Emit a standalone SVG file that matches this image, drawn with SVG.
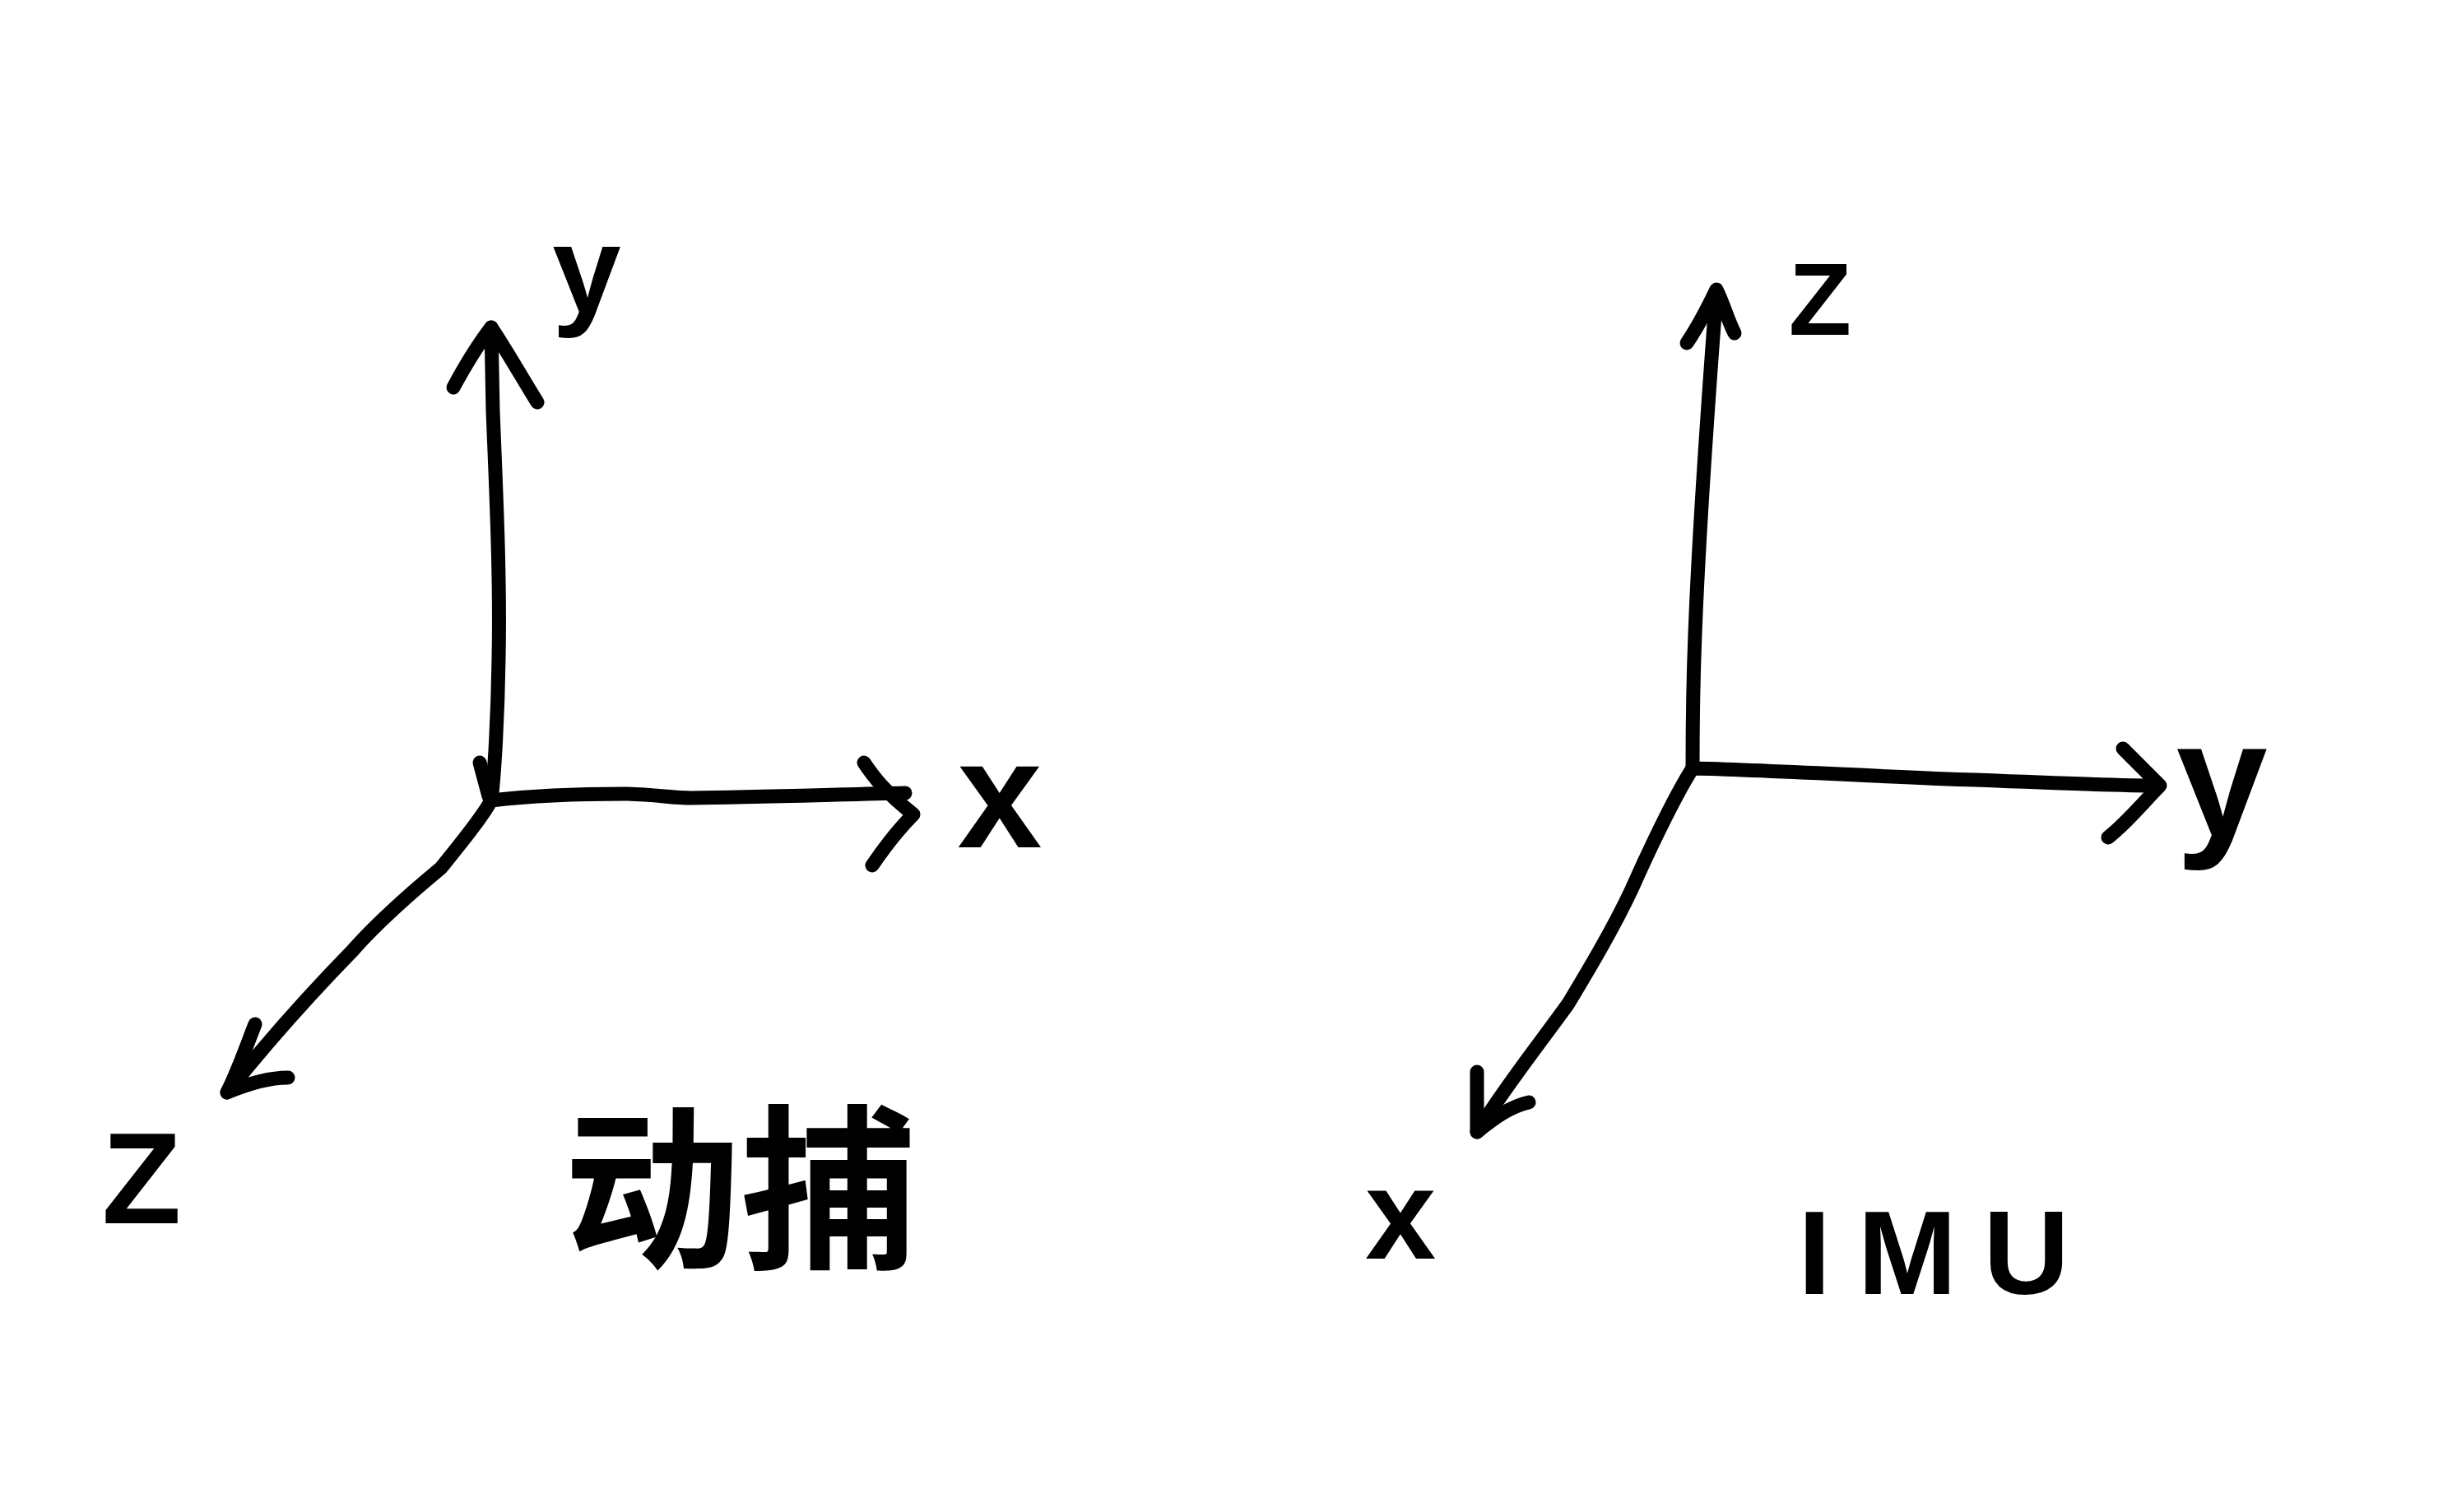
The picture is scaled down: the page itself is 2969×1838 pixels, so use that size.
<svg xmlns="http://www.w3.org/2000/svg" width="2969" height="1838" viewBox="0 0 2969 1838">
<style>
.ax{fill:none;stroke:#000;stroke-width:17;stroke-linecap:round;stroke-linejoin:round}
.lb{font-family:"Liberation Sans","DejaVu Sans",sans-serif;font-weight:700;fill:#000;text-anchor:middle}
.cj{font-family:"Noto Sans CJK SC","Noto Sans CJK JP",sans-serif;font-weight:700;fill:#000;text-anchor:middle}
</style>
<rect width="2969" height="1838" fill="#fff"/>
<g id="connectors">
<g id="mocap-axes">
<path class="ax" d="M597,973 C601,940 605,870 606,800 C608,700 603,600 599,500 L597,398"/>
<path class="ax" d="M583,927 L594,968"/>
<path class="ax" d="M551,471 C565,445 580,420 597,398 C615,425 635,460 653,489"/>
<path class="ax" d="M597,973 C640,968 700,965 760,965 C800,966 815,970 840,970 C920,969 1010,966 1100,964"/>
<path class="ax" d="M1050,927 C1062,945 1075,962 1110,990 C1090,1010 1075,1030 1060,1052"/>
<path class="ax" d="M597,973 C585,995 560,1025 536,1055 C500,1085 460,1120 429,1155 C390,1195 330,1260 276,1328"/>
<path class="ax" d="M310,1245 C300,1270 290,1300 276,1328 C300,1318 325,1310 350,1310"/>
</g>
<g id="imu-axes">
<path class="ax" d="M2057,934 C2057,880 2058,820 2060,770 C2065,640 2075,500 2086,355"/>
<path class="ax" d="M2050,417 C2065,395 2075,375 2086,352 C2095,370 2100,390 2108,405"/>
<path class="ax" d="M2057,934 C2150,936 2300,945 2400,948 C2500,952 2580,955 2622,955"/>
<path class="ax" d="M2580,910 C2595,925 2610,940 2625,955 C2605,975 2585,1000 2562,1018"/>
<path class="ax" d="M2057,934 C2040,960 2010,1020 1983,1081 C1960,1130 1930,1180 1906,1220 C1870,1270 1830,1320 1795,1376"/>
<path class="ax" d="M1795,1303 C1795,1330 1795,1355 1795,1376 C1815,1360 1835,1345 1858,1340"/>
</g>
</g>
<g id="mocap-frame">
<text class="lb" x="713" y="380" font-size="150">y</text>
<text class="lb" x="1215" y="1030" font-size="185">x</text>
<text class="lb" x="172" y="1487" font-size="158">Z</text>
<text class="cj" x="900" y="1525" font-size="215">动捕</text>
</g>
<g id="imu-frame">
<text class="lb" x="2212" y="407" font-size="125">Z</text>
<text class="lb" x="2700" y="1016" font-size="200">y</text>
<text class="lb" x="1702" y="1530" font-size="155">x</text>
<text class="lb" x="2350" y="1573" font-size="145" textLength="330" lengthAdjust="spacing">IMU</text>
</g>
</svg>
